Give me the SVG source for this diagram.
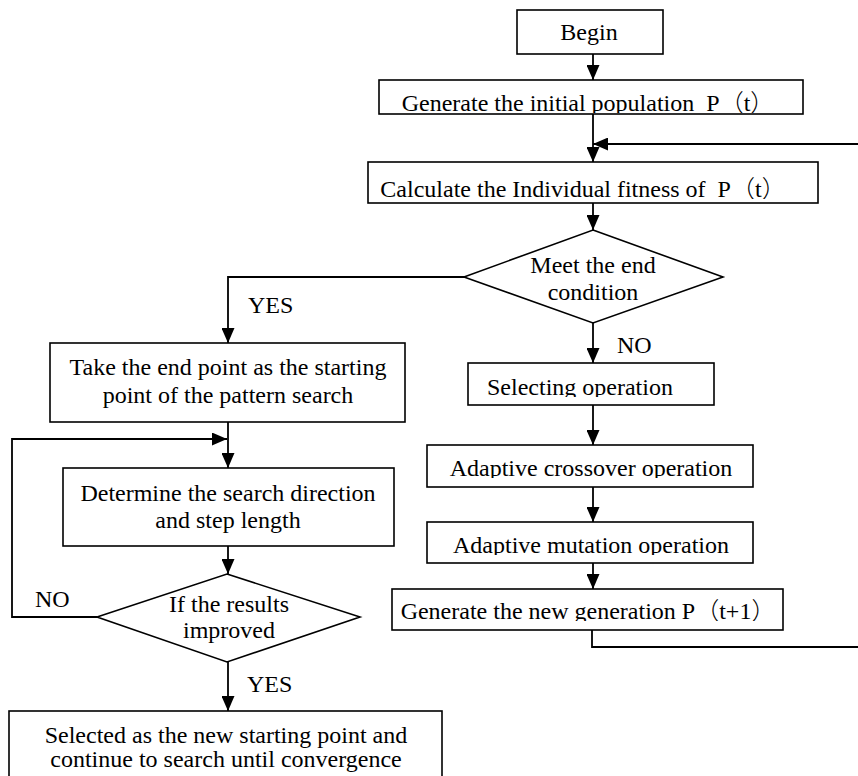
<svg xmlns="http://www.w3.org/2000/svg" width="858" height="776" viewBox="0 0 858 776">
<style>
.box{fill:#fff;stroke:#000;stroke-width:1.6}
.t{font-family:"Liberation Serif",serif;font-size:24px;fill:#000;text-anchor:middle;white-space:pre}
.cjk{font-family:"Noto Sans CJK SC",sans-serif;font-weight:300}
.lbl{font-family:"Liberation Serif",serif;font-size:24px;fill:#000}
.c{fill:none;stroke:#000;stroke-width:1.8}
</style>
<defs>
<marker id="ah" viewBox="0 0 15 13" refX="15" refY="6.5" markerWidth="15" markerHeight="13" markerUnits="userSpaceOnUse" orient="auto">
<path d="M0,0 L15,6.5 L0,13 z" fill="#000"/>
</marker>
<clipPath id="cGen" clipPathUnits="userSpaceOnUse"><rect x="379" y="80" width="424" height="33"/></clipPath>
<clipPath id="cCalc" clipPathUnits="userSpaceOnUse"><rect x="368" y="162" width="450" height="37"/></clipPath>
<clipPath id="cSel" clipPathUnits="userSpaceOnUse"><rect x="468" y="363" width="246" height="34"/></clipPath>
<clipPath id="cCross" clipPathUnits="userSpaceOnUse"><rect x="427" y="445" width="326" height="33"/></clipPath>
<clipPath id="cMut" clipPathUnits="userSpaceOnUse"><rect x="427" y="522" width="326" height="33"/></clipPath>
<clipPath id="cNew" clipPathUnits="userSpaceOnUse"><rect x="392" y="589" width="391" height="32"/></clipPath>
</defs>
<rect width="858" height="776" fill="#fff"/>
<g id="connectors">
<path class="c" d="M593,54 V80" marker-end="url(#ah)"/>
<path class="c" d="M593,114 V162" marker-end="url(#ah)"/>
<path class="c" d="M858,144 H593" marker-end="url(#ah)"/>
<path class="c" d="M593,203 V230" marker-end="url(#ah)"/>
<path class="c" d="M593,323 V363" marker-end="url(#ah)"/>
<path class="c" d="M593,405 V445" marker-end="url(#ah)"/>
<path class="c" d="M593,487 V522" marker-end="url(#ah)"/>
<path class="c" d="M593,563 V589" marker-end="url(#ah)"/>
<path class="c" d="M592,630 V647 H858"/>
<path class="c" d="M464,277 H228 V343" marker-end="url(#ah)"/>
<path class="c" d="M228,422 V468" marker-end="url(#ah)"/>
<path class="c" d="M97,617 H12 V439 H227" marker-end="url(#ah)"/>
<path class="c" d="M228,546 V574" marker-end="url(#ah)"/>
<path class="c" d="M228,662 V711" marker-end="url(#ah)"/>
<text class="lbl" x="248" y="313">YES</text>
<text class="lbl" x="617" y="353">NO</text>
<text class="lbl" x="35" y="607">NO</text>
<text class="lbl" x="247" y="692">YES</text>
</g>
<g id="begin">
<rect class="box" x="517" y="10" width="146" height="44"/>
<text class="t" x="589" y="40">Begin</text>
</g>
<g id="gen-init">
<rect class="box" x="379" y="80" width="424" height="34"/>
<text class="t" x="588" y="111" clip-path="url(#cGen)">Generate the initial population  P<tspan class="cjk">（</tspan>t<tspan class="cjk">）</tspan></text>
</g>
<g id="calc-fitness">
<rect class="box" x="368" y="162" width="450" height="41"/>
<text class="t" x="583" y="197" clip-path="url(#cCalc)">Calculate the Individual fitness of  P<tspan class="cjk">（</tspan>t<tspan class="cjk">）</tspan></text>
</g>
<g id="end-condition">
<polygon class="box" points="593,230 723,277 593,323 464,277"/>
<text class="t" x="593" y="273">Meet the end</text>
<text class="t" x="593" y="300">condition</text>
</g>
<g id="selecting">
<rect class="box" x="468" y="363" width="246" height="42"/>
<text class="t" x="580" y="395" clip-path="url(#cSel)">Selecting operation</text>
</g>
<g id="crossover">
<rect class="box" x="427" y="445" width="326" height="42"/>
<text class="t" x="591" y="476" clip-path="url(#cCross)">Adaptive crossover operation</text>
</g>
<g id="mutation">
<rect class="box" x="427" y="522" width="326" height="41"/>
<text class="t" x="591" y="553" clip-path="url(#cMut)">Adaptive mutation operation</text>
</g>
<g id="new-generation">
<rect class="box" x="392" y="589" width="391" height="41"/>
<text class="t" x="588" y="619" clip-path="url(#cNew)">Generate the new generation P<tspan class="cjk">（</tspan>t+1<tspan class="cjk">）</tspan></text>
</g>
<g id="take-end-point">
<rect class="box" x="50" y="343" width="355" height="79"/>
<text class="t" x="228" y="375">Take the end point as the starting</text>
<text class="t" x="228" y="403">point of the pattern search</text>
</g>
<g id="determine">
<rect class="box" x="63" y="468" width="331" height="78"/>
<text class="t" x="228" y="501">Determine the search direction</text>
<text class="t" x="228" y="528">and step length</text>
</g>
<g id="improved">
<polygon class="box" points="227,574 360,617 227,662 97,617"/>
<text class="t" x="229" y="612">If the results</text>
<text class="t" x="229" y="638">improved</text>
</g>
<g id="selected-new">
<rect class="box" x="9" y="711" width="433" height="80"/>
<text class="t" x="226" y="743">Selected as the new starting point and</text>
<text class="t" x="226" y="767">continue to search until convergence</text>
</g>
</svg>
